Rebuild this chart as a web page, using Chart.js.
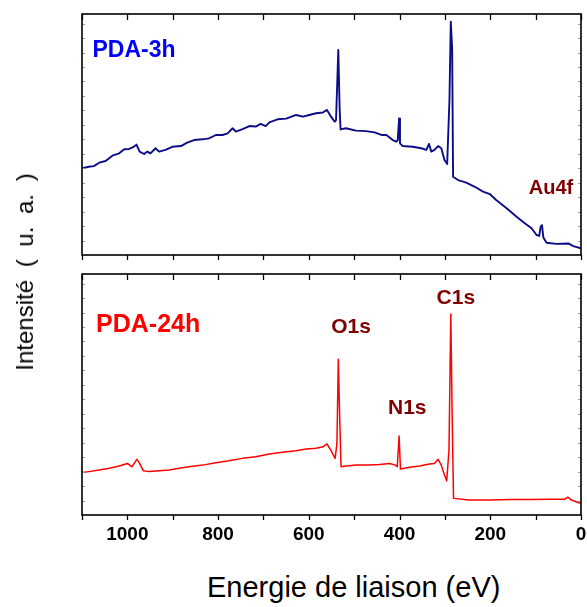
<!DOCTYPE html>
<html>
<head>
<meta charset="utf-8">
<script src="https://cdn.jsdelivr.net/npm/chart.js@4/dist/chart.umd.min.js"></script>
<style>
  html, body { margin: 0; padding: 0; background: #fff; }
  body { width: 587px; height: 607px; position: relative; overflow: hidden;
         font-family: "Liberation Sans", Arial, sans-serif; }
  canvas { position: absolute; left: 0; }
  #top { top: 0; }
  #bottom { top: 262px; }
  .ylab { position: absolute; left: 25px; top: 272px; font-size: 24px; word-spacing: 6px;
          white-space: nowrap; transform: translate(-50%, -50%) rotate(-90deg); color: #000; }
  .xlab { position: absolute; left: 207px; top: 570px; font-size: 29px; white-space: nowrap; color: #000; line-height: 34px; }
</style>
</head>
<body>
<canvas id="top" width="587" height="262"></canvas>
<canvas id="bottom" width="587" height="300"></canvas>
<div class="ylab">Intensité ( u. a. )</div>
<div class="xlab">Energie de liaison (eV)</div>
<script>
// ---- data (binding energy in eV, intensity in arbitrary units) ----
const energy3h = [1100,1085,1074,1062,1048,1033,1018,1007,996,986,980,973,963,956,949,938,930,916,901,882,868,853,834,820,805,790,779,768,761,746,731,717,706,695,687,669,650,628,613,599,584,569,560,551,543,540,535,532,530,518,496,474,455,440,429,415,407,404,401,399,393,371,352,341,335,330,323,315,308,301,295,290,287,284,282,271,253,234,216,201,187,164,142,124,109,98,92,89,86,83,76,54,28,17,0];
const intensity3h = [36.0,36.6,36.9,38.3,39.0,41.2,42.2,43.9,44.0,44.9,45.8,42.9,41.9,42.9,42.2,44.3,42.9,43.6,44.9,45.2,46.6,47.7,48.0,48.4,49.8,49.8,50.5,52.6,51.2,52.2,53.5,53.3,54.4,53.5,55.0,56.3,56.6,58.1,57.4,58.1,58.8,59.1,60.2,57.4,55.3,56.0,85.1,60.2,52.1,52.6,51.6,51.4,50.9,49.8,49.8,47.7,47.0,47.7,56.7,46.3,45.2,44.9,44.3,43.6,46.1,42.9,43.6,45.2,44.3,39.4,37.8,64.3,96.8,85.1,32.5,31.1,30.0,28.3,26.3,25.3,22.8,19.4,15.9,13.2,11.1,8.3,7.9,11.8,12.4,7.3,5.1,4.6,4.8,3.7,2.8];

const energy24h = [1100,1085,1062,1040,1018,1000,990,979,973,965,952,930,908,886,864,834,805,776,746,717,687,658,628,606,584,569,560,551,542,538,535,532,529,518,496,466,444,422,409,405,401,398,378,356,334,323,315,308,301,296,291,287,284,281,246,201,157,113,69,36,29,21,0];
const intensity24h = [17.6,18.0,18.7,19.4,20.3,21.4,20.0,23.1,21.4,18.4,18.0,18.4,18.7,19.4,20.0,20.7,21.7,22.5,23.5,24.2,25.3,26.0,26.7,27.4,27.7,28.3,29.5,26.7,23.5,29.7,64.6,40.8,20.0,20.3,20.7,20.7,21.0,21.4,20.7,20.0,32.8,19.1,19.8,20.3,21.2,21.4,23.1,20.7,16.6,14.2,27.0,83.4,40.8,6.9,6.2,6.2,6.4,6.4,6.5,6.5,7.4,6.2,4.8];

const seriesNames = ["PDA-3h", "PDA-24h"];
const xTickLabels = [1000, 800, 600, 400, 200, 0];
const xTickMarks = [1100, 1000, 900, 800, 700, 600, 500, 400, 300, 200, 100, 0];
const yMinorTicks = [6, 12, 18, 24, 30, 36, 42, 48, 54, 60, 66, 72, 78, 84, 90, 96];
const peakNames = ["O1s", "N1s", "C1s", "Au4f"];

// ---- styling / annotation placement (not data) ----
const FONT = '"Liberation Sans", Arial, sans-serif';
Chart.defaults.font.family = FONT;
const topNotes = [
  { text: seriesNames[0], e: 1077, v: 82.0, color: '#0000ff', size: 23, align: 'left' },
  { text: peakNames[3], e: 66, v: 25.2, color: '#800000', size: 20, align: 'center' }
];
const bottomNotes = [
  { text: seriesNames[1], e: 1069, v: 76.1, color: '#ff0000', size: 25, align: 'left' },
  { text: peakNames[0], e: 507, v: 75.4, color: '#800000', size: 21, align: 'center' },
  { text: peakNames[1], e: 383, v: 41.9, color: '#800000', size: 21, align: 'center' },
  { text: peakNames[2], e: 276, v: 87.6, color: '#800000', size: 21, align: 'center' }
];

function pts(xs, ys) { return xs.map((x, i) => ({ x: x, y: ys[i] })); }

function framePlugin(notes) {
  return {
    id: 'frame',
    afterDraw(chart) {
      const { ctx, chartArea: { left, right, top, bottom }, scales: { x, y } } = chart;
      ctx.save();
      ctx.strokeStyle = '#9a9a9a'; ctx.lineWidth = 1;
      yMinorTicks.forEach(v => {
        const py = Math.round(y.getPixelForValue(v)) + 0.5;
        ctx.beginPath(); ctx.moveTo(left, py); ctx.lineTo(left + 3, py);
        ctx.moveTo(right, py); ctx.lineTo(right - 3, py); ctx.stroke();
      });
      ctx.strokeStyle = '#000'; ctx.lineWidth = 1.3;
      xTickMarks.forEach(v => {
        const px = Math.round(x.getPixelForValue(v)) + 0.5;
        ctx.beginPath(); ctx.moveTo(px, top); ctx.lineTo(px, top + 6);
        ctx.moveTo(px, bottom); ctx.lineTo(px, bottom + 5); ctx.stroke();
      });
      ctx.lineWidth = 1.6;
      ctx.strokeRect(left, top, right - left, bottom - top);
      notes.forEach(n => {
        ctx.font = 'bold ' + n.size + 'px ' + FONT;
        ctx.fillStyle = n.color; ctx.textAlign = n.align; ctx.textBaseline = 'alphabetic';
        ctx.fillText(n.text, x.getPixelForValue(n.e), y.getPixelForValue(n.v));
      });
      ctx.restore();
    }
  };
}

const commonX = { type: 'linear', min: 0, max: 1100, reverse: true };

new Chart(document.getElementById('top'), {
  type: 'line',
  data: { datasets: [{ label: seriesNames[0], data: pts(energy3h, intensity3h),
    borderColor: '#0c0c88', borderWidth: 1.9, pointRadius: 0, pointHoverRadius: 0, tension: 0, fill: false, borderJoinStyle: 'round' }] },
  options: {
    responsive: false, animation: false, devicePixelRatio: 1,
    layout: { autoPadding: false, padding: { left: 82, right: 6, top: 14, bottom: 7 } },
    plugins: { legend: { display: false }, tooltip: { enabled: false } },
    scales: { x: Object.assign({}, commonX, { display: false }), y: { min: 0, max: 100, display: false } }
  },
  plugins: [framePlugin(topNotes)]
});

new Chart(document.getElementById('bottom'), {
  type: 'line',
  data: { datasets: [{ label: seriesNames[1], data: pts(energy24h, intensity24h),
    borderColor: '#ff0000', borderWidth: 1.5, pointRadius: 0, pointHoverRadius: 0, tension: 0, fill: false, borderJoinStyle: 'round' }] },
  options: {
    responsive: false, animation: false, devicePixelRatio: 1,
    layout: { autoPadding: false, padding: { left: 82, right: 6, top: 12, bottom: 0 } },
    plugins: { legend: { display: false }, tooltip: { enabled: false } },
    scales: {
      x: Object.assign({}, commonX, {
        display: true, position: 'bottom',
        afterBuildTicks: (s) => { s.ticks = xTickLabels.map(v => ({ value: v })); },
        afterFit: (s) => { s.height = 47; s.paddingLeft = 0; s.paddingRight = 0; },
        ticks: { font: { size: 19, weight: 'bold' }, color: '#000', padding: 8, maxRotation: 0, autoSkip: false,
                 callback: (v) => String(v) },
        grid: { display: false, drawTicks: false }, border: { display: false }
      }),
      y: { min: 0, max: 100, display: false }
    }
  },
  plugins: [framePlugin(bottomNotes)]
});
</script>
</body>
</html>
